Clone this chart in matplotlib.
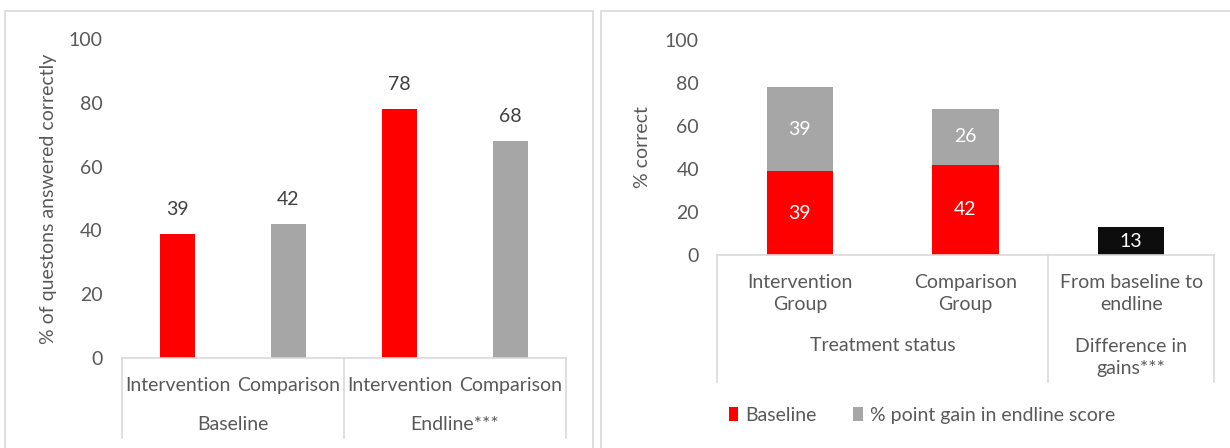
import matplotlib.pyplot as plt
from matplotlib.patches import Rectangle
from matplotlib.lines import Line2D

plt.rcParams['font.family'] = ['Lato', 'DejaVu Sans']

TXT = '#595959'
GRID = '#d9d9d9'
RED = '#ff0000'
GREY = '#a6a6a6'
FS = 14

# left chart: score by round and group
left_groups = ['Intervention', 'Comparison', 'Intervention', 'Comparison']
left_rounds = ['Baseline', 'Endline***']
left_scores = [39, 42, 78, 68]
left_colors = [RED, GREY, RED, GREY]

# right chart: baseline + gain stacked, and difference in gains
right_cats = ['Intervention\nGroup', 'Comparison\nGroup', 'From baseline to\nendline']
right_baseline = [39, 42]
right_gain = [39, 26]
diff_gain = 13

fig = plt.figure(figsize=(12.3, 4.48), dpi=100)

# panel frames
fig.patches.append(Rectangle((5 / 1230, -0.1), 588 / 1230, 1.1 - 11 / 448, transform=fig.transFigure,
                             fill=False, edgecolor=GRID, linewidth=1.2))
fig.patches.append(Rectangle((601 / 1230, -0.1), 640 / 1230, 1.1 - 11 / 448, transform=fig.transFigure,
                             fill=False, edgecolor=GRID, linewidth=1.2))


def style_axis(ax):
    for s in ['top', 'right', 'left']:
        ax.spines[s].set_visible(False)
    ax.spines['bottom'].set_color(GRID)
    ax.spines['bottom'].set_linewidth(1.2)
    ax.tick_params(axis='y', length=0, labelsize=FS, colors=TXT)
    ax.tick_params(axis='x', length=0, labelbottom=False)
    ax.set_yticks(range(0, 101, 20))
    ax.set_ylim(0, 100)


def vline(ax, x, y0, y1):
    ax.add_line(Line2D([x, x], [y0, y1], transform=ax.get_xaxis_transform(),
                       color=GRID, linewidth=1.2, clip_on=False))


# ---- left chart
ax1 = fig.add_axes([122 / 1230, 90 / 448, 444 / 1230, 319 / 448])
style_axis(ax1)
ax1.tick_params(axis='y', pad=14)
xs = range(len(left_scores))
ax1.bar(xs, left_scores, width=0.32, color=left_colors)
ax1.set_xlim(-0.5, 3.5)
for x, v in zip(xs, left_scores):
    ax1.text(x, v + 5, str(v), ha='center', va='bottom', fontsize=FS, color='#404040')
ax1.set_ylabel('% of questons answered correctly', fontsize=FS, color=TXT, labelpad=8)

for x, lab in zip(xs, left_groups):
    ax1.text(x, -0.085, lab, transform=ax1.get_xaxis_transform(), ha='center', va='center',
             fontsize=FS, color=TXT)
for i, lab in enumerate(left_rounds):
    ax1.text(0.5 + 2 * i, -0.207, lab, transform=ax1.get_xaxis_transform(), ha='center', va='center',
             fontsize=FS, color=TXT)
for x in [-0.5, 1.5, 3.5]:
    vline(ax1, x, 0, -0.25)

# ---- right chart
ax2 = fig.add_axes([717 / 1230, 193 / 448, 497 / 1230, 215 / 448])
style_axis(ax2)
ax2.tick_params(axis='y', pad=13)
ax2.set_xlim(-0.5, 2.5)
bx = [0, 1]
ax2.bar(bx, right_baseline, width=0.4, color=RED, label='Baseline')
ax2.bar(bx, right_gain, width=0.4, bottom=right_baseline, color=GREY,
        label='% point gain in endline score')
ax2.bar([2], [diff_gain], width=0.4, color='#0d0d0d')
for x, b, g in zip(bx, right_baseline, right_gain):
    ax2.text(x, b / 2, str(b), ha='center', va='center', fontsize=FS, color='white')
    ax2.text(x, b + g / 2, str(g), ha='center', va='center', fontsize=FS, color='white')
ax2.text(2, diff_gain / 2, str(diff_gain), ha='center', va='center', fontsize=FS, color='white')
ax2.set_ylabel('% correct', fontsize=FS, color=TXT, labelpad=10)

for x, lab in enumerate(right_cats):
    ax2.text(x, -0.178, lab, transform=ax2.get_xaxis_transform(), ha='center', va='center',
             fontsize=FS, color=TXT, linespacing=1.35)
ax2.text(0.5, -0.42, 'Treatment status', transform=ax2.get_xaxis_transform(), ha='center',
         va='center', fontsize=FS, color=TXT)
ax2.text(2, -0.475, 'Difference in\ngains***', transform=ax2.get_xaxis_transform(), ha='center',
         va='center', fontsize=FS, color=TXT, linespacing=1.35)
for x in [-0.5, 1.5, 2.5]:
    vline(ax2, x, 0, -0.59)

leg = fig.legend(loc='center left', bbox_to_anchor=(711 / 1230, 1 - 415 / 448), ncol=2, frameon=False,
                 fontsize=FS, handlelength=0.5, handleheight=0.75, handletextpad=0.35, columnspacing=1.9)
for t in leg.get_texts():
    t.set_color(TXT)

fig.savefig('out.png', dpi=100)
